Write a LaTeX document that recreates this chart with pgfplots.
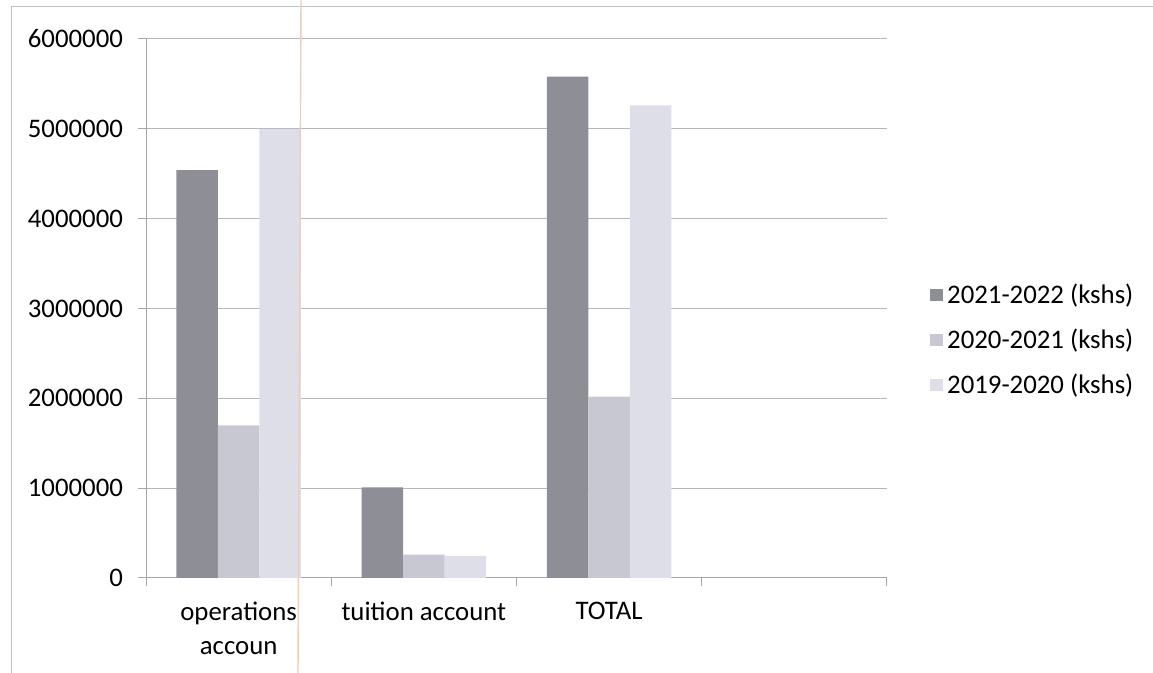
\documentclass[border=0pt]{standalone}
\usepackage{fontspec}
\setmainfont{Carlito}
\usepackage{pgfplots}
\pgfplotsset{compat=1.18}
\definecolor{sA}{RGB}{142,142,151}
\definecolor{sB}{RGB}{200,200,210}
\definecolor{sC}{RGB}{222,222,232}
\definecolor{gridc}{RGB}{165,165,170}
\begin{document}
\begin{tikzpicture}
\useasboundingbox (0,0) rectangle (576.5pt,336.5pt);
\draw[gridc!70, line width=0.5pt] (5.5pt,0pt) -- (5.5pt,333pt) -- (576.5pt,333pt);
\begin{axis}[
  at={(73pt,47.5pt)}, anchor=south west,
  scale only axis, width=370.5pt, height=269.5pt,
  xmin=-0.5, xmax=3.5, ymin=0, ymax=6000000,
  scaled y ticks=false,
  ybar=0pt, bar width=0.224,
  axis x line=bottom, axis y line=left,
  axis line style={gridc, line width=0.5pt, -},
  xtick={0,1,2},
  xticklabels={{operations\\accoun},{tuition account},{TOTAL}},
  major x tick style={draw=none},
  minor xtick={-0.5,0.5,1.5,2.5,3.5},
  minor tick length=4pt,
  major tick length=4pt,
  tick align=outside,
  ytick={0,1000000,2000000,3000000,4000000,5000000,6000000},
  yticklabels={0,1000000,2000000,3000000,4000000,5000000,6000000},
  tick style={gridc, line width=0.5pt},
  ymajorgrids, grid style={gridc!80, line width=0.5pt},
  ticklabel style={font=\fontsize{13.4}{16.8}\selectfont},
  xticklabel style={align=center, yshift=-4.5pt},
  yticklabel style={xshift=-4pt},
  legend cell align=left,
  legend style={at={(1.058,0.4416)}, anchor=west, draw=none, fill=none,
    font=\fontsize{13.4}{16}\selectfont, row sep=7.2pt, inner sep=0pt,
    /tikz/every even column/.append style={column sep=6pt}},
  legend image code/.code={\fill[#1] (0pt,-3.2pt) rectangle (6.4pt,3.2pt);},
]
\addplot[fill=sA, draw=none] coordinates {(0,4540000) (1,1010000) (2,5580000)};
\addplot[fill=sB, draw=none] coordinates {(0,1700000) (1,260000) (2,2020000)};
\addplot[fill=sC, draw=none] coordinates {(0,5000000) (1,245000) (2,5260000)};
\legend{2021-2022 (kshs),2020-2021 (kshs),2019-2020 (kshs)}
\end{axis}
\draw[color={rgb,255:red,236;green,206;blue,186}, line width=0.7pt] (150.5pt,336.5pt) -- (149pt,0pt);
\end{tikzpicture}
\end{document}
